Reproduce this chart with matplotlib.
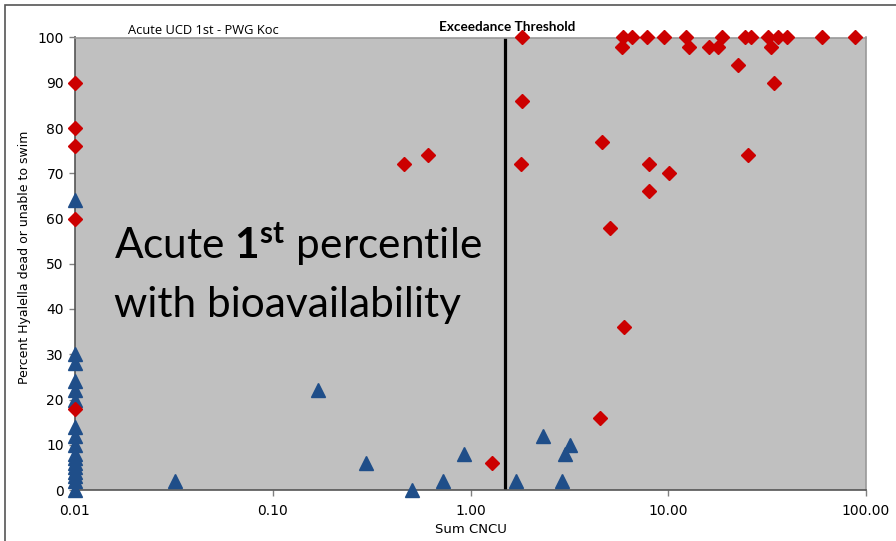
import matplotlib.pyplot as plt
from matplotlib.ticker import FixedLocator, FixedFormatter
from matplotlib.patches import Rectangle

# red diamonds (above threshold effects)
red_x = [0.01, 0.01, 0.01, 0.01, 0.01,
         0.46, 0.61, 1.29, 1.83, 1.83, 1.79, 4.62, 4.52, 5.06, 6.0,
         8.0, 8.0, 10.1, 25.3, 22.5, 34.4,
         5.93, 6.58, 7.81, 9.55, 12.3, 18.7, 24.4, 26.1, 31.8, 36.0, 39.7, 59.9, 88.3,
         5.86, 12.7, 16.0, 17.9, 33.0]
red_y = [90, 80, 76, 60, 18,
         72, 74, 6, 100, 86, 72, 77, 16, 58, 36,
         72, 66, 70, 74, 94, 90,
         100, 100, 100, 100, 100, 100, 100, 100, 100, 100, 100, 100, 100,
         98, 98, 98, 98, 98]

# blue triangles
blue_x = [0.01] * 17 + [0.032, 0.17, 0.296, 0.505, 0.73, 0.924, 1.70, 2.32, 2.91, 3.0, 3.18]
blue_y = [64, 30, 28, 24, 22, 20, 14, 12, 10, 8, 7, 6, 5, 4, 3, 2, 0,
          2, 22, 6, 0, 2, 8, 2, 12, 2, 8, 10]

threshold = 1.5
xticks = [0.01, 0.1, 1, 10, 100]
xtick_labels = ["0.01", "0.10", "1.00", "10.00", "100.00"]
yticks = list(range(0, 101, 10))

plt.rcParams['mathtext.fontset'] = 'custom'
plt.rcParams['mathtext.rm'] = 'Lato'
plt.rcParams['mathtext.bf'] = 'Lato:bold'

fig = plt.figure(figsize=(8.96, 5.41), dpi=100)
ax = fig.add_axes([75 / 896, 1 - 490 / 541, 791 / 896, 452.5 / 541])
ax.set_facecolor('#c0c0c0')

ax.set_xscale('log')
ax.set_xlim(0.01, 100)
ax.set_ylim(0, 100)

ax.axvline(threshold, color='black', lw=2.3, zorder=2)

ax.plot(blue_x, blue_y, linestyle='none', marker='^', ms=10, color='#1f4e89',
        mec='#1f4e89', clip_on=False, zorder=3)
ax.plot(red_x, red_y, linestyle='none', marker='D', ms=7.5, color='#cc0000',
        mec='#cc0000', clip_on=False, zorder=4)

ax.xaxis.set_major_locator(FixedLocator(xticks))
ax.xaxis.set_major_formatter(FixedFormatter(xtick_labels))
ax.xaxis.set_minor_locator(FixedLocator([]))
ax.set_yticks(yticks)
ax.tick_params(axis='both', labelsize=10, color='#808080', length=4, width=1, pad=4)
ax.tick_params(axis='x', pad=6)

for s in ['left', 'bottom']:
    ax.spines[s].set_color('#555555')
    ax.spines[s].set_linewidth(1.2)
for s in ['top', 'right']:
    ax.spines[s].set_color('#999999')
    ax.spines[s].set_linewidth(1.2)

ax.set_xlabel('Sum CNCU', fontsize=9.5, labelpad=4)
ax.set_ylabel('Percent Hyalella dead or unable to swim', fontsize=9)
ax.yaxis.set_label_coords(-0.055, 0.515)

fig.text(203 / 896, 1 - 30 / 541, 'Acute UCD 1st - PWG Koc', ha='center', va='center',
         fontsize=9.3, family='Open Sans')
fig.text(507 / 896, 1 - 27 / 541, 'Exceedance Threshold', ha='center', va='center',
         fontsize=9.7, family='Lato', fontweight='bold')

ax.text(114 / 896, 1 - 259 / 541, r'Acute $\mathbf{1^{st}}$ percentile', transform=fig.transFigure,
        fontsize=30.5, family='Lato', ha='left', va='baseline')
ax.text(114 / 896, 1 - 317 / 541, 'with bioavailability', transform=fig.transFigure,
        fontsize=30.5, family='Lato', ha='left', va='baseline')

# frame around the slide picture
fig.patches.append(Rectangle((5 / 896, -0.05), 1.2, 1 - 5 / 541 + 0.05, transform=fig.transFigure,
                             fill=False, edgecolor='#555555', lw=1.2))

fig.savefig('out.png', dpi=100)
